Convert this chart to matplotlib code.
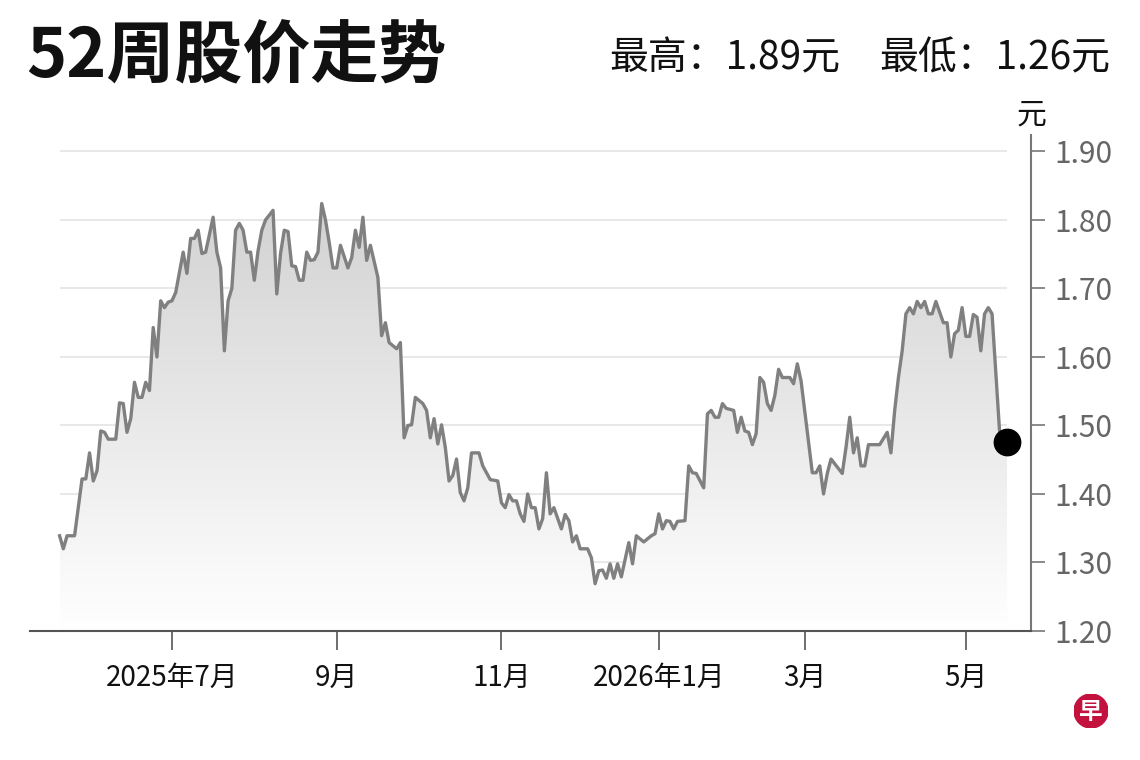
import matplotlib
matplotlib.use("Agg")
import matplotlib.pyplot as plt
from matplotlib.colors import LinearSegmentedColormap
from matplotlib.patches import Polygon, Circle
import numpy as np

plt.rcParams['font.family'] = ['Noto Sans CJK SC', 'DejaVu Sans']

# 52-week closing prices.
# x is the trading-session number counted from START (SGX calendar)
START = "2025-05-20"
HOLIDAYS = ["2025-10-20", "2025-12-25", "2026-01-01", "2026-02-17",
            "2026-02-18", "2026-04-03", "2026-05-01"]
SESSIONS = [
    0, 1, 2, 4, 6, 7, 8, 9, 10, 11, 12, 13, 15, 16, 17, 18, 19, 20, 21, 22,
    23, 24, 25, 26, 27, 28, 29, 30, 31, 33, 34, 35, 36, 37, 38, 39, 41, 42, 43, 44,
    45, 46, 47, 48, 49, 50, 51, 52, 53, 54, 55, 57, 58, 59, 60, 61, 62, 63, 64, 65,
    66, 67, 68, 69, 70, 71, 72, 73, 74, 75, 77, 78, 79, 80, 81, 82, 83, 85, 86, 87,
    88, 90, 91, 92, 93, 94, 95, 97, 98, 99, 100, 101, 102, 103, 104, 105, 106, 107, 108, 109,
    110, 112, 113, 115, 117, 118, 119, 120, 121, 122, 123, 124, 125, 126, 127, 128, 129, 130, 131, 132,
    134, 135, 136, 137, 138, 139, 141, 142, 143, 144, 145, 146, 147, 148, 149, 150, 152, 153, 154, 156,
    158, 159, 160, 161, 162, 163, 164, 165, 167, 168, 169, 170, 172, 173, 174, 175, 176, 177, 178, 180,
    181, 182, 183, 184, 185, 186, 187, 188, 189, 190, 191, 192, 193, 195, 196, 197, 198, 201, 202, 203,
    204, 205, 206, 209, 210, 211, 212, 213, 214, 215, 216, 219, 221, 222, 223, 224, 225, 226, 227, 228,
    229, 230, 231, 232, 233, 234, 236, 237, 238, 239, 240, 241, 242, 243, 244, 245, 246, 247, 248, 249,
    251, 253,
]
PRICES = [
    1.339, 1.32, 1.339, 1.339, 1.422, 1.422, 1.46, 1.419, 1.434, 1.492, 1.49, 1.48, 1.48, 1.533, 1.532, 1.49, 1.51, 1.563, 1.541, 1.541,
    1.563, 1.551, 1.643, 1.60, 1.682, 1.672, 1.68, 1.682, 1.694, 1.753, 1.722, 1.773, 1.773, 1.785, 1.751, 1.753, 1.804, 1.753, 1.73, 1.609,
    1.682, 1.70, 1.785, 1.795, 1.785, 1.753, 1.753, 1.712, 1.755, 1.785, 1.80, 1.814, 1.692, 1.751, 1.785, 1.783, 1.733, 1.732, 1.712, 1.712,
    1.753, 1.741, 1.742, 1.753, 1.824, 1.80, 1.767, 1.73, 1.73, 1.763, 1.73, 1.745, 1.785, 1.76, 1.804, 1.741, 1.763, 1.716, 1.631, 1.65,
    1.621, 1.612, 1.621, 1.482, 1.50, 1.501, 1.541, 1.532, 1.522, 1.482, 1.51, 1.473, 1.501, 1.468, 1.419, 1.427, 1.451, 1.402, 1.39, 1.409,
    1.46, 1.46, 1.441, 1.421, 1.419, 1.387, 1.38, 1.399, 1.39, 1.39, 1.371, 1.36, 1.40, 1.38, 1.38, 1.349, 1.364, 1.431, 1.371, 1.38,
    1.349, 1.37, 1.361, 1.33, 1.339, 1.32, 1.32, 1.307, 1.269, 1.288, 1.289, 1.277, 1.298, 1.277, 1.298, 1.279, 1.329, 1.298, 1.339, 1.33,
    1.339, 1.342, 1.371, 1.349, 1.361, 1.36, 1.349, 1.36, 1.361, 1.441, 1.431, 1.43, 1.409, 1.517, 1.522, 1.512, 1.512, 1.532, 1.525, 1.522,
    1.49, 1.512, 1.492, 1.49, 1.472, 1.488, 1.57, 1.563, 1.532, 1.522, 1.544, 1.582, 1.57, 1.57, 1.561, 1.59, 1.565, 1.431, 1.431, 1.441,
    1.40, 1.43, 1.451, 1.43, 1.468, 1.512, 1.46, 1.482, 1.441, 1.441, 1.472, 1.472, 1.49, 1.46, 1.522, 1.57, 1.609, 1.663, 1.672, 1.663,
    1.681, 1.672, 1.681, 1.663, 1.663, 1.681, 1.65, 1.65, 1.60, 1.634, 1.639, 1.672, 1.63, 1.63, 1.662, 1.658, 1.609, 1.663, 1.672, 1.663,
    1.492, 1.476,
]

TICK_DATES = ["2025-07-01", "2025-09-01", "2025-11-01", "2026-01-01", "2026-03-01", "2026-05-01"]
TICK_LABELS = ["2025年7月", "9月", "11月", "2026年1月", "3月", "5月"]
Y_TICKS = [1.20, 1.30, 1.40, 1.50, 1.60, 1.70, 1.80, 1.90]
HIGH = 1.89
LOW = 1.26

x = np.array(SESSIONS, dtype=float)
prices = np.array(PRICES)
tick_pos = np.busday_count(START, np.array(TICK_DATES, dtype="datetime64[D]"),
                           holidays=HOLIDAYS)

fig = plt.figure(figsize=(11.4, 7.6), dpi=100)
fig.patch.set_facecolor("white")
ax = fig.add_axes([30 / 1140, 1 - 631 / 760, 1001 / 1140, 496 / 760])

# light grid only over the span of the data
ax.hlines(Y_TICKS[1:], x[0], x[-1], color="#e8e8e8", lw=1.5, zorder=0)

# grey gradient under the line
verts = [(x[0], 1.20)] + list(zip(x, prices)) + [(x[-1], 1.20)]
poly = Polygon(verts, closed=True, facecolor="none", edgecolor="none")
ax.add_patch(poly)
cmap = LinearSegmentedColormap.from_list("fade", ["#ffffff", "#d2d2d2"])
grad = np.linspace(1, 0, 256).reshape(-1, 1)
im = ax.imshow(grad, extent=[x[0], x[-1], 1.20, prices.max()], aspect="auto",
               cmap=cmap, origin="upper", zorder=1, interpolation="bilinear")
im.set_clip_path(poly)

ax.plot(x, prices, color="#808080", lw=2.4, zorder=3, solid_joinstyle="round")
ax.plot(x[-1], prices[-1], "o", ms=19, color="black", zorder=4)

ax.set_xlim(-7.9, 259.4)
ax.set_ylim(1.20, 1.924)
ax.set_aspect("auto")

for s in ["top", "left"]:
    ax.spines[s].set_visible(False)
ax.spines["bottom"].set_color("#555555")
ax.spines["bottom"].set_linewidth(1.5)
ax.spines["right"].set_color("#777777")
ax.spines["right"].set_linewidth(1.5)

ax.yaxis.tick_right()
ax.set_yticks(Y_TICKS)
ax.set_yticklabels([f"{v:.2f}" for v in Y_TICKS])
ax.tick_params(axis="y", length=10, width=1.2, color="#777777", pad=7,
               labelsize=21.5, labelcolor="#666666")

ax.set_xticks(tick_pos)
ax.set_xticklabels(TICK_LABELS)
ax.tick_params(axis="x", length=14, width=1.2, color="#555555", pad=9,
               labelsize=20, labelcolor="#111111")

fig.text(1031 / 1140, 1 - 115 / 760, "元", ha="center", va="center",
         fontsize=21.5, color="#111111")

fig.text(26 / 1140, 1 - 58 / 760, "52周股价走势", ha="left", va="center",
         fontsize=49, fontweight="bold", color="#111111")
fig.text(840 / 1140, 1 - 58 / 760, f"最高：{HIGH:.2f}元", ha="right", va="center",
         fontsize=28, color="#111111")
fig.text(1110 / 1140, 1 - 58 / 760, f"最低：{LOW:.2f}元", ha="right", va="center",
         fontsize=28, color="#111111")

# small round logo at the bottom right
lax = fig.add_axes([(1091 - 17) / 1140, (760 - 711 - 17) / 760, 34 / 1140, 34 / 760])
lax.set_xlim(-1, 1)
lax.set_ylim(-1, 1)
lax.set_aspect("equal")
lax.axis("off")
lax.add_patch(Circle((0, 0), 1, color="#c4123f"))
lax.text(0, -0.05, "早", ha="center", va="center", fontsize=17,
         fontweight="bold", color="white")

fig.savefig("out.png", dpi=100, facecolor="white")
